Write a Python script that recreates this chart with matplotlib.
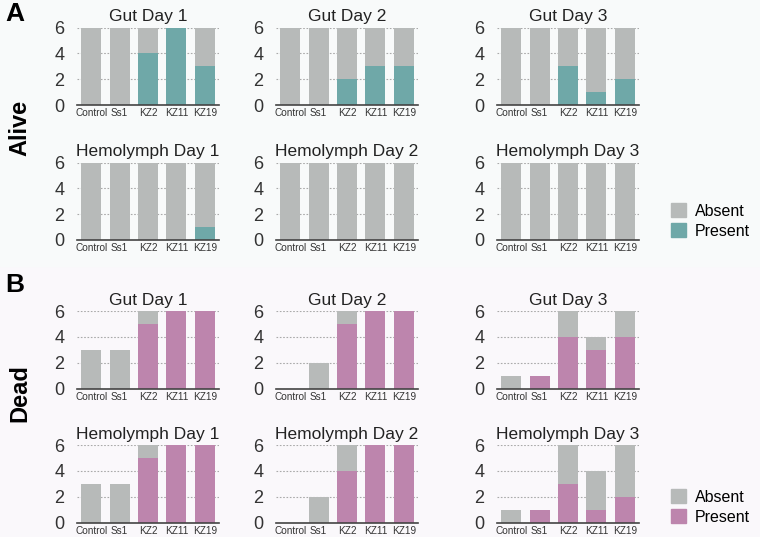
import numpy as np
import matplotlib.pyplot as plt
from matplotlib.patches import Rectangle, Patch

strains = ["Control", "Ss1", "KZ2", "KZ11", "KZ19"]
titles = ["Gut Day 1", "Gut Day 2", "Gut Day 3",
          "Hemolymph Day 1", "Hemolymph Day 2", "Hemolymph Day 3"]

# alive: 6 flies per strain in every panel
alive_total = [[6, 6, 6, 6, 6]] * 6
alive_present = [
    [0, 0, 4, 6, 3],
    [0, 0, 2, 3, 3],
    [0, 0, 3, 1, 2],
    [0, 0, 0, 0, 1],
    [0, 0, 0, 0, 0],
    [0, 0, 0, 0, 0],
]

# dead
dead_total = [
    [3, 3, 6, 6, 6],
    [0, 2, 6, 6, 6],
    [1, 1, 6, 4, 6],
    [3, 3, 6, 6, 6],
    [0, 2, 6, 6, 6],
    [1, 1, 6, 4, 6],
]
dead_present = [
    [0, 0, 5, 6, 6],
    [0, 0, 5, 6, 6],
    [0, 1, 4, 3, 4],
    [0, 0, 5, 6, 6],
    [0, 0, 4, 6, 6],
    [0, 1, 3, 1, 2],
]

gray = "#b7bab9"
teal = "#6fa8a8"
pink = "#bd85ad"

plt.rcParams['font.family'] = ['Liberation Sans', 'DejaVu Sans']

W, H = 760, 537
fig = plt.figure(figsize=(W / 100, H / 100), dpi=100)
fig.patches.append(Rectangle((0, 0), 1, 1 - 266 / H, transform=fig.transFigure,
                             color="#faf8fb", zorder=-10))
fig.patches.append(Rectangle((0, 1 - 266 / H), 1, 266 / H, transform=fig.transFigure,
                             color="#f8fafa", zorder=-10))

col_left = [77, 276, 497]
ax_w = 142
row_tops = [27.5, 162.5, 311, 445]
ax_h = 77.5


def panel(ax, total, present, color, title):
    x = np.arange(len(strains))
    total = np.array(total)
    present = np.array(present)
    ax.bar(x, present, width=0.7, color=color, zorder=2)
    ax.bar(x, total - present, bottom=present, width=0.7, color=gray, zorder=2)
    ax.set_xlim(-0.5, 4.5)
    ax.set_ylim(0, 6)
    ax.set_yticks([0, 2, 4, 6])
    ax.set_yticklabels(["0", "2", "4", "6"], fontsize=13, color="#333333")
    ax.set_xticks(x)
    ax.set_xticklabels(strains, fontsize=7.2, color="#333333")
    ax.tick_params(length=0)
    ax.tick_params(axis="x", pad=2.5)
    ax.tick_params(axis="y", pad=9)
    for s in ["top", "right", "left"]:
        ax.spines[s].set_visible(False)
    ax.spines["bottom"].set_color("#444444")
    ax.spines["bottom"].set_linewidth(1.2)
    ax.set_facecolor("none")
    ax.grid(axis="y", linestyle=(0, (1.5, 1.5)), color="#aaaaaa", linewidth=0.8, zorder=0)
    ax.set_axisbelow(True)
    ax.set_title(title, fontsize=12.5, color="#222222", pad=4.5)


groups = [(alive_total, alive_present, teal, 0), (dead_total, dead_present, pink, 2)]
for total, present, color, r0 in groups:
    for i in range(6):
        r = r0 + i // 3
        c = i % 3
        ax = fig.add_axes([col_left[c] / W, 1 - (row_tops[r] + ax_h) / H,
                           ax_w / W, ax_h / H])
        panel(ax, total[i], present[i], color, titles[i])

fig.text(5 / W, 1 - 14 / H, "A", fontsize=19, fontweight="bold", va="center")
fig.text(5 / W, 1 - 285 / H, "B", fontsize=19, fontweight="bold", va="center")
fig.text(20 / W, 1 - 128 / H, "Alive", fontsize=17, fontweight="bold", rotation=90,
         ha="center", va="center")
fig.text(20 / W, 1 - 393 / H, "Dead", fontsize=17, fontweight="bold", rotation=90,
         ha="center", va="center")

for color, yc in [(teal, 221), (pink, 507)]:
    handles = [Patch(color=gray, label="Absent"), Patch(color=color, label="Present")]
    fig.legend(handles=handles, loc="center left",
               bbox_to_anchor=(668 / W, 1 - yc / H), frameon=False, fontsize=11.5,
               handlelength=0.9, handleheight=0.9, handletextpad=0.6,
               labelspacing=0.3, borderaxespad=0, borderpad=0.2)

fig.savefig("out.png", dpi=100)
